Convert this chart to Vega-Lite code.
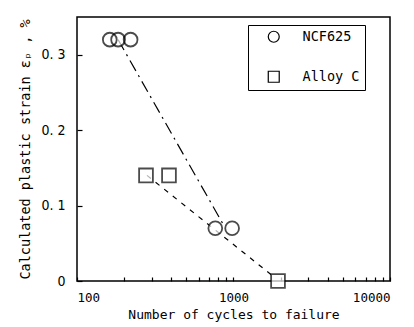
{
  "$schema": "https://vega.github.io/schema/vega-lite/v6.json",
  "autosize": {"type": "none"},
  "width": 313,
  "height": 264,
  "padding": {"left": 77, "top": 17, "right": 24, "bottom": 46},
  "config": {
    "font": "DejaVu Sans Condensed",
    "view": {"stroke": "black", "strokeWidth": 1.5},
    "axis": {"domain": false, "grid": false, "labelColor": "black", "titleColor": "black", "tickColor": "black", "tickWidth": 1.2, "labelFontSize": 13, "titleFontSize": 13, "titleFont": "DejaVu Sans Mono", "titleFontWeight": "normal", "labelOverlap": false, "zindex": 1}
  },
  "datasets": {
    "pts": [
      {"material": "NCF625", "cycles": 162, "strain": 0.32},
      {"material": "NCF625", "cycles": 183, "strain": 0.32},
      {"material": "NCF625", "cycles": 220, "strain": 0.32},
      {"material": "NCF625", "cycles": 765, "strain": 0.07},
      {"material": "NCF625", "cycles": 980, "strain": 0.07},
      {"material": "Alloy C", "cycles": 276, "strain": 0.14},
      {"material": "Alloy C", "cycles": 387, "strain": 0.14},
      {"material": "Alloy C", "cycles": 1925, "strain": 0.0}
    ],
    "fitA": [
      {"cycles": 183, "strain": 0.32},
      {"cycles": 860, "strain": 0.075}
    ],
    "fitB": [
      {"cycles": 280, "strain": 0.14},
      {"cycles": 1850, "strain": 0.004}
    ]
  },
  "layer": [
    {
      "data": {"name": "fitA"},
      "mark": {"type": "line", "color": "black", "strokeWidth": 1.2, "strokeDash": [12, 5, 2, 5]},
      "encoding": {
        "x": {
          "field": "cycles", "type": "quantitative",
          "scale": {"type": "log", "domain": [100, 10000]},
          "axis": {
            "title": "Number of cycles to failure",
            "values": [100, 200, 300, 400, 500, 600, 700, 800, 900, 1000, 2000, 3000, 4000, 5000, 6000, 7000, 8000, 9000, 10000],
            "format": "d",
            "labelExpr": "indexof([100, 1000, 10000], datum.value) >= 0 ? datum.label : ''",
            "labelFont": "DejaVu Sans Mono",
            "labelFontSize": 12.5,
            "tickSize": -4,
            "labelPadding": 14,
            "titlePadding": 5
          }
        },
        "y": {
          "field": "strain", "type": "quantitative",
          "scale": {"domain": [0, 0.35]},
          "axis": {
            "title": "Calculated plastic strain εₚ , %",
            "titleFontSize": 13.5,
            "values": [0, 0.05, 0.1, 0.15, 0.2, 0.25, 0.3, 0.35],
            "format": ".2~f",
            "labelExpr": "datum.value == 0 ? '0' : slice(datum.label, 0, 2) + ' ' + slice(datum.label, 2)",
            "labelOverlap": false,
            "labelFontSize": 14,
            "tickSize": -5,
            "labelPadding": 17,
            "titlePadding": 8
          }
        }
      }
    },
    {
      "data": {"name": "fitB"},
      "mark": {"type": "line", "color": "black", "strokeWidth": 1.2, "strokeDash": [5, 6]},
      "encoding": {
        "x": {"field": "cycles", "type": "quantitative"},
        "y": {"field": "strain", "type": "quantitative"}
      }
    },
    {
      "data": {"name": "pts"},
      "transform": [{"filter": "datum.material == 'NCF625'"}],
      "mark": {"type": "point", "shape": "circle", "filled": true, "color": "white", "size": 190, "clip": false},
      "encoding": {
        "x": {"field": "cycles", "type": "quantitative"},
        "y": {"field": "strain", "type": "quantitative"}
      }
    },
    {
      "data": {"name": "pts"},
      "transform": [{"filter": "datum.material == 'Alloy C'"}],
      "mark": {"type": "point", "shape": "square", "filled": true, "color": "white", "size": 190, "clip": false},
      "encoding": {
        "x": {"field": "cycles", "type": "quantitative"},
        "y": {"field": "strain", "type": "quantitative"}
      }
    },
    {
      "data": {"name": "pts"},
      "mark": {"type": "point", "filled": false, "color": "black", "strokeWidth": 1.8, "size": 190, "clip": false},
      "encoding": {
        "x": {"field": "cycles", "type": "quantitative"},
        "y": {"field": "strain", "type": "quantitative"},
        "shape": {
          "field": "material", "type": "nominal",
          "scale": {"domain": ["NCF625", "Alloy C"], "range": ["circle", "square"]},
          "legend": {
            "title": null,
            "orient": "none",
            "legendX": 171,
            "legendY": 8,
            "padding": 5,
            "rowPadding": 23,
            "strokeColor": "black",
            "fillColor": "white",
            "symbolFillColor": "white",
            "symbolStrokeColor": "black",
            "symbolStrokeWidth": 1.2,
            "symbolOpacity": 1,
            "symbolSize": 120,
            "labelFont": "DejaVu Sans Mono",
            "labelFontSize": 13.5,
            "labelColor": "black",
            "labelOffset": 22,
            "symbolOffset": 14,
            "labelExpr": "datum.label + '     '"
          }
        }
      }
    }
  ]
}
